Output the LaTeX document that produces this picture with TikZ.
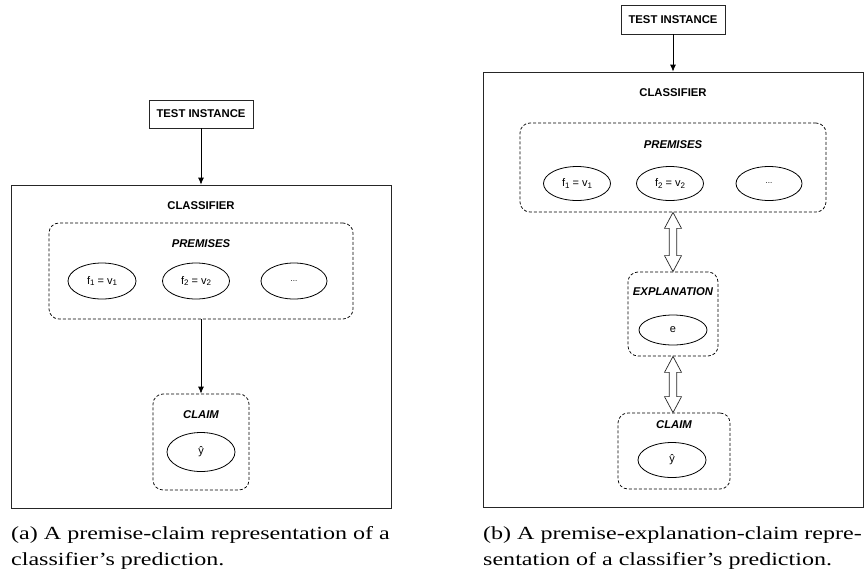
\documentclass[tikz,border=0pt]{standalone}
\usepackage{fontspec}
\usetikzlibrary{shapes.geometric,arrows.meta,calc}
\newfontfamily\diagfont{Liberation Sans}
\newfontfamily\capfont[FakeStretch=1.3]{Liberation Serif}
\newcommand\mysub[1]{\raisebox{-0.3ex}{\fontsize{8}{8}\selectfont #1}}
\tikzset{
  outerbox/.style={draw=black!85, line width=0.8pt, inner sep=0pt},
  plainbox/.style={draw=black!85, line width=0.8pt, inner sep=0pt, fill=white},
  dbox/.style={draw=black, line width=0.75pt, dash pattern=on 3pt off 2pt, rounded corners=10pt, inner sep=0pt},
  ell/.style={draw=black, ellipse, line width=0.8pt, inner sep=0pt, font=\diagfont\fontsize{11}{13}\selectfont},
  ttl/.style={font=\diagfont\bfseries\fontsize{11.3}{13}\selectfont, inner sep=0pt},
  ittl/.style={font=\diagfont\bfseries\itshape\fontsize{11.3}{13}\selectfont, inner sep=0pt},
  conn/.style={line width=0.8pt, -{Latex[length=7pt,width=6pt]}},
  harrow/.style={draw=black!85, line width=0.7pt, fill=white},
  captext/.style={font=\capfont\fontsize{18.5}{26}\selectfont, inner sep=0pt, anchor=base west}
}
\newcommand\dblarrow[2]{%
  \draw[harrow] let \p1=(#1), \p2=(#2) in
    (\x1,\y1) -- (\x1+8.5pt,\y1-16pt) -- (\x1+3.8pt,\y1-16pt) -- (\x1+3.8pt,\y2+16pt)
    -- (\x1+8.5pt,\y2+16pt) -- (\x1,\y2) -- (\x1-8.5pt,\y2+16pt) -- (\x1-3.8pt,\y2+16pt)
    -- (\x1-3.8pt,\y1-16pt) -- (\x1-8.5pt,\y1-16pt) -- cycle;}
\begin{document}
\begin{tikzpicture}[x=1pt,y=-1pt]
\useasboundingbox[fill=white] (0,0) rectangle (865,579);

% ---------------- left panel ----------------
\node[outerbox, minimum width=380pt, minimum height=323pt] (clsA) at (201,346.5) {};
\node[plainbox, minimum width=104pt, minimum height=28pt, ttl] (testA) at (201,114) {TEST INSTANCE};
\node[ttl] (clsAl) at (201,206) {CLASSIFIER};
\node[dbox, minimum width=304pt, minimum height=96pt] (premA) at (201,271) {};
\node[ittl] (premAl) at (201,244) {PREMISES};
\node[ell, minimum width=68pt, minimum height=36pt] (fA1) at (102,281) {f\mysub{1} = v\mysub{1}};
\node[ell, minimum width=67pt, minimum height=36pt] (fA2) at (196,281) {f\mysub{2} = v\mysub{2}};
\node[ell, minimum width=66pt, minimum height=36pt] (fA3) at (294,281) {\fontsize{8}{8}\selectfont ...};
\node[dbox, minimum width=96pt, minimum height=96pt] (claimA) at (201,442) {};
\node[ittl] (claimAl) at (201,415) {CLAIM};
\node[ell, minimum width=68pt, minimum height=39pt] (yA) at (201,452) {ŷ};
\draw[conn] (testA.south) -- (clsA.north);
\draw[conn] (premA.south) -- (claimA.north);

% ---------------- right panel ----------------
\node[outerbox, minimum width=380pt, minimum height=435pt] (clsB) at (673,289.5) {};
\node[plainbox, minimum width=104pt, minimum height=29pt, ttl] (testB) at (673,19.5) {TEST INSTANCE};
\node[ttl] (clsBl) at (673,93) {CLASSIFIER};
\node[dbox, minimum width=306pt, minimum height=89pt] (premB) at (673,167.5) {};
\node[ittl] (premBl) at (673,145) {PREMISES};
\node[ell, minimum width=67pt, minimum height=34pt] (fB1) at (577,183.5) {f\mysub{1} = v\mysub{1}};
\node[ell, minimum width=67pt, minimum height=34pt] (fB2) at (670,183.5) {f\mysub{2} = v\mysub{2}};
\node[ell, minimum width=66pt, minimum height=34pt] (fB3) at (769,183.5) {\fontsize{8}{8}\selectfont ...};
\node[dbox, minimum width=90pt, minimum height=84pt] (explB) at (673,314) {};
\node[ittl] (explBl) at (673,292) {EXPLANATION};
\node[ell, minimum width=68pt, minimum height=30pt] (eB) at (673,330) {e};
\node[dbox, minimum width=112pt, minimum height=76pt] (claimB) at (674,451) {};
\node[ittl] (claimBl) at (674,425) {CLAIM};
\node[ell, minimum width=68pt, minimum height=35pt] (yB) at (672,460) {ŷ};
\draw[conn] (testB.south) -- (clsB.north);
\dblarrow{premB.south}{explB.north}
\dblarrow{explB.south}{claimB.north}

% ---------------- captions ----------------
\node[captext] (capA1) at (11,539) {(a) A premise-claim representation of a};
\node[captext] (capA2) at (11,565) {classifier’s prediction.};
\node[captext] (capB1) at (483,539) {(b) A premise-explanation-claim repre-};
\node[captext] (capB2) at (483,565) {sentation of a classifier’s prediction.};
\end{tikzpicture}
\end{document}
